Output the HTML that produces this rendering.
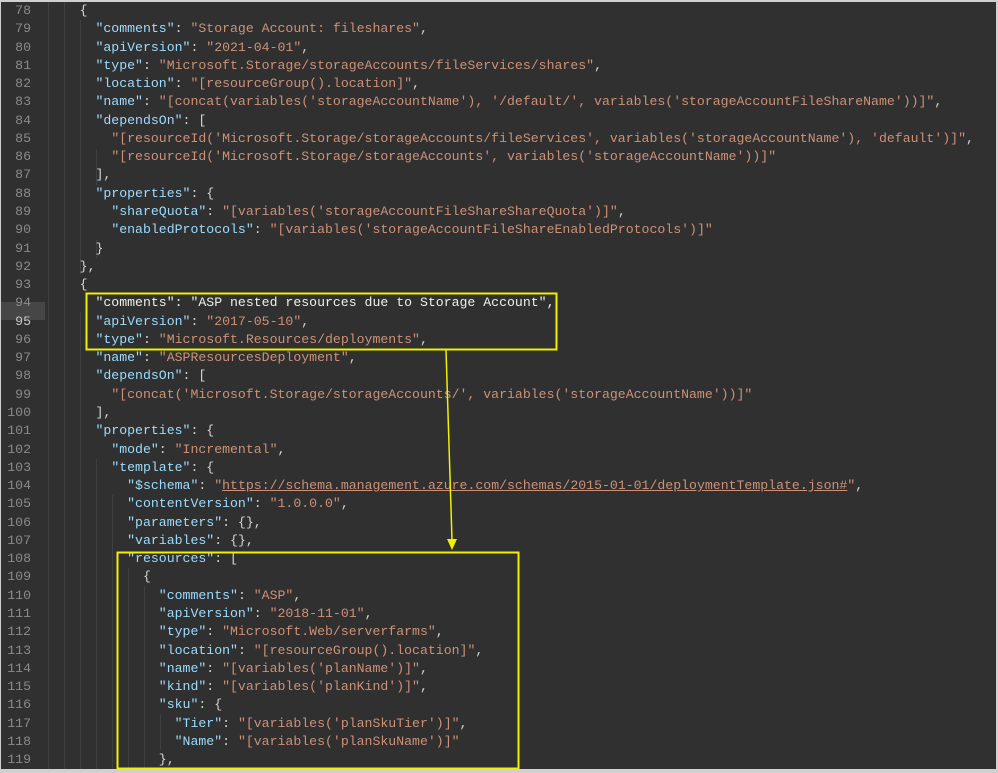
<!DOCTYPE html>
<html><head><meta charset="utf-8"><style>
html,body{margin:0;padding:0;}
body{width:998px;height:773px;background:#d0d0d0;position:relative;overflow:hidden;}
#ed{position:absolute;left:1px;top:2px;width:995px;height:767px;background:#303030;overflow:hidden;}
.l{position:absolute;left:0;height:18px;width:995px;font-family:"Liberation Mono",monospace;font-size:13.2px;line-height:18px;white-space:pre;color:#d4d4d4;}
.n{position:absolute;left:0;width:30px;text-align:right;color:#8a8a8a;}
.c{position:absolute;left:47px;}
.k{color:#9cdcfe}.s{color:#ce9178}.u{color:#ce9178;text-decoration:underline}
.w{color:#eeeeee}
.hl{position:absolute;left:0;width:44px;height:18px;background:#464646;}
.g{position:absolute;width:1px;background:#404040;}
</style></head><body>
<div id="ed">
<div class="hl" style="top:300px"></div>
<div class="g" style="left:47px;top:0;height:767px"></div>
<div class="g" style="left:63px;top:0;height:767px"></div>
<div class="g" style="left:79px;top:18px;height:255px"></div>
<div class="g" style="left:79px;top:310px;height:457px"></div>
<div class="g" style="left:95px;top:147px;height:36px"></div>
<div class="g" style="left:95px;top:238px;height:18px"></div>
<div class="g" style="left:95px;top:457px;height:310px"></div>
<div class="g" style="left:111px;top:493px;height:274px"></div>
<div class="g" style="left:127px;top:566px;height:201px"></div>
<div class="g" style="left:143px;top:584px;height:183px"></div>
<div class="g" style="left:159px;top:712px;height:36px"></div>

<div class="l" style="top:0px"><span class="n">78</span><span class="c">    {</span></div>
<div class="l" style="top:18.3px"><span class="n">79</span><span class="c">      <span class="k">"comments"</span>: <span class="s">"Storage Account: fileshares"</span>,</span></div>
<div class="l" style="top:36.5px"><span class="n">80</span><span class="c">      <span class="k">"apiVersion"</span>: <span class="s">"2021-04-01"</span>,</span></div>
<div class="l" style="top:54.8px"><span class="n">81</span><span class="c">      <span class="k">"type"</span>: <span class="s">"Microsoft.Storage/storageAccounts/fileServices/shares"</span>,</span></div>
<div class="l" style="top:73.1px"><span class="n">82</span><span class="c">      <span class="k">"location"</span>: <span class="s">"[resourceGroup().location]"</span>,</span></div>
<div class="l" style="top:91.4px"><span class="n">83</span><span class="c">      <span class="k">"name"</span>: <span class="s">"[concat(variables('storageAccountName'), '/default/', variables('storageAccountFileShareName'))]"</span>,</span></div>
<div class="l" style="top:109.6px"><span class="n">84</span><span class="c">      <span class="k">"dependsOn"</span>: [</span></div>
<div class="l" style="top:127.9px"><span class="n">85</span><span class="c">        <span class="s">"[resourceId('Microsoft.Storage/storageAccounts/fileServices', variables('storageAccountName'), 'default')]"</span>,</span></div>
<div class="l" style="top:146.2px"><span class="n">86</span><span class="c">        <span class="s">"[resourceId('Microsoft.Storage/storageAccounts', variables('storageAccountName'))]"</span></span></div>
<div class="l" style="top:164.4px"><span class="n">87</span><span class="c">      ],</span></div>
<div class="l" style="top:182.7px"><span class="n">88</span><span class="c">      <span class="k">"properties"</span>: {</span></div>
<div class="l" style="top:201px"><span class="n">89</span><span class="c">        <span class="k">"shareQuota"</span>: <span class="s">"[variables('storageAccountFileShareShareQuota')]"</span>,</span></div>
<div class="l" style="top:219.2px"><span class="n">90</span><span class="c">        <span class="k">"enabledProtocols"</span>: <span class="s">"[variables('storageAccountFileShareEnabledProtocols')]"</span></span></div>
<div class="l" style="top:237.5px"><span class="n">91</span><span class="c">      }</span></div>
<div class="l" style="top:255.8px"><span class="n">92</span><span class="c">    },</span></div>
<div class="l" style="top:274.1px"><span class="n">93</span><span class="c">    {</span></div>
<div class="l" style="top:292.3px"><span class="n">94</span><span class="c w">      "comments": "ASP nested resources due to Storage Account",</span></div>
<div class="l" style="top:310.6px"><span class="n" style="color:#c8c8c8">95</span><span class="c">      <span class="k">"apiVersion"</span>: <span class="s">"2017-05-10"</span>,</span></div>
<div class="l" style="top:328.9px"><span class="n">96</span><span class="c">      <span class="k">"type"</span>: <span class="s">"Microsoft.Resources/deployments"</span>,</span></div>
<div class="l" style="top:347.1px"><span class="n">97</span><span class="c">      <span class="k">"name"</span>: <span class="s">"ASPResourcesDeployment"</span>,</span></div>
<div class="l" style="top:365.4px"><span class="n">98</span><span class="c">      <span class="k">"dependsOn"</span>: [</span></div>
<div class="l" style="top:383.7px"><span class="n">99</span><span class="c">        <span class="s">"[concat('Microsoft.Storage/storageAccounts/', variables('storageAccountName'))]"</span></span></div>
<div class="l" style="top:402px"><span class="n">100</span><span class="c">      ],</span></div>
<div class="l" style="top:420.2px"><span class="n">101</span><span class="c">      <span class="k">"properties"</span>: {</span></div>
<div class="l" style="top:438.5px"><span class="n">102</span><span class="c">        <span class="k">"mode"</span>: <span class="s">"Incremental"</span>,</span></div>
<div class="l" style="top:456.8px"><span class="n">103</span><span class="c">        <span class="k">"template"</span>: {</span></div>
<div class="l" style="top:475px"><span class="n">104</span><span class="c">          <span class="k">"$schema"</span>: <span class="s">"</span><span class="u">https://schema.management.azure.com/schemas/2015-01-01/deploymentTemplate.json#</span><span class="s">"</span>,</span></div>
<div class="l" style="top:493.3px"><span class="n">105</span><span class="c">          <span class="k">"contentVersion"</span>: <span class="s">"1.0.0.0"</span>,</span></div>
<div class="l" style="top:511.6px"><span class="n">106</span><span class="c">          <span class="k">"parameters"</span>: {},</span></div>
<div class="l" style="top:529.8px"><span class="n">107</span><span class="c">          <span class="k">"variables"</span>: {},</span></div>
<div class="l" style="top:548.1px"><span class="n">108</span><span class="c">          <span class="k">"resources"</span>: [</span></div>
<div class="l" style="top:566.4px"><span class="n">109</span><span class="c">            {</span></div>
<div class="l" style="top:584.7px"><span class="n">110</span><span class="c">              <span class="k">"comments"</span>: <span class="s">"ASP"</span>,</span></div>
<div class="l" style="top:602.9px"><span class="n">111</span><span class="c">              <span class="k">"apiVersion"</span>: <span class="s">"2018-11-01"</span>,</span></div>
<div class="l" style="top:621.2px"><span class="n">112</span><span class="c">              <span class="k">"type"</span>: <span class="s">"Microsoft.Web/serverfarms"</span>,</span></div>
<div class="l" style="top:639.5px"><span class="n">113</span><span class="c">              <span class="k">"location"</span>: <span class="s">"[resourceGroup().location]"</span>,</span></div>
<div class="l" style="top:657.7px"><span class="n">114</span><span class="c">              <span class="k">"name"</span>: <span class="s">"[variables('planName')]"</span>,</span></div>
<div class="l" style="top:676px"><span class="n">115</span><span class="c">              <span class="k">"kind"</span>: <span class="s">"[variables('planKind')]"</span>,</span></div>
<div class="l" style="top:694.3px"><span class="n">116</span><span class="c">              <span class="k">"sku"</span>: {</span></div>
<div class="l" style="top:712.5px"><span class="n">117</span><span class="c">                <span class="k">"Tier"</span>: <span class="s">"[variables('planSkuTier')]"</span>,</span></div>
<div class="l" style="top:730.8px"><span class="n">118</span><span class="c">                <span class="k">"Name"</span>: <span class="s">"[variables('planSkuName')]"</span></span></div>
<div class="l" style="top:749.1px"><span class="n">119</span><span class="c">              },</span></div>
</div>
<svg width="998" height="773" style="position:absolute;left:0;top:0">
<rect x="86.5" y="293.5" width="470" height="56" fill="none" stroke="#f0f000" stroke-width="2"/>
<rect x="117.5" y="552.5" width="401" height="216" fill="none" stroke="#f0f000" stroke-width="2"/>
<line x1="446" y1="350" x2="452" y2="540" stroke="#f0f000" stroke-width="1.5"/>
<polygon points="447,539 457,539 452,550" fill="#f0f000"/>
</svg>
</body></html>
